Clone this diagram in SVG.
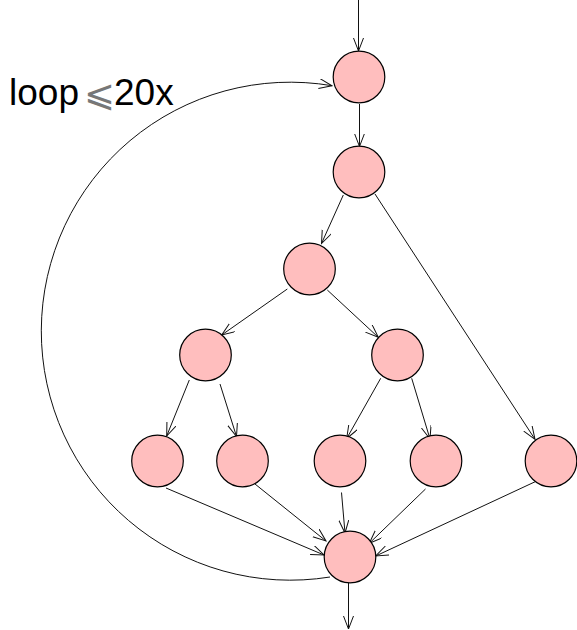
<svg xmlns="http://www.w3.org/2000/svg" width="577" height="630" viewBox="0 0 577 630">
<style>
.node circle{fill:#ffbebe;stroke:#000;stroke-width:1.2}
.edges path{fill:none;stroke:#111;stroke-width:1;marker-end:url(#arr)}
.lbl{font-family:"Liberation Sans",Arial,sans-serif;font-size:37px;fill:#000}
</style>
<defs>
<marker id="arr" markerUnits="userSpaceOnUse" markerWidth="15" markerHeight="12" refX="13" refY="5" orient="auto">
<path d="M0,0 L13,5 L0,10" fill="none" stroke="#111" stroke-width="1"/>
</marker>
</defs>
<rect width="577" height="630" fill="#fff"/>
<g class="edges" id="edges">
<path d="M358.5,0 L358.5,51"/>
<path d="M359.5,104 L359.5,146.5"/>
<path d="M343.3,195 L321.5,243.5"/>
<path d="M375,194 L535,439.3"/>
<path d="M287.3,289 L221.7,335"/>
<path d="M327.3,290 L378.3,337.3"/>
<path d="M189.3,380 L166.7,436"/>
<path d="M220,384 L236.5,436.5"/>
<path d="M380.7,378.3 L346.7,438.5"/>
<path d="M411.7,378.3 L430,439"/>
<path d="M166,488 L324,555"/>
<path d="M255,484 L326,541"/>
<path d="M341.5,492.5 L345,533"/>
<path d="M425.5,489 L369.3,543.3"/>
<path d="M536.7,481 L375.7,556"/>
<path d="M348.5,583 L348.5,629"/>
<path d="M330,577 A249,249 0 1 1 332,85.7"/>
</g>
<g class="node" id="n1"><circle cx="359" cy="77" r="25.8"/></g>
<g class="node" id="n2"><circle cx="359" cy="172" r="25.8"/></g>
<g class="node" id="n3"><circle cx="309.5" cy="269" r="25.8"/></g>
<g class="node" id="n4"><circle cx="205.5" cy="355" r="25.8"/></g>
<g class="node" id="n5"><circle cx="397.5" cy="355" r="25.8"/></g>
<g class="node" id="l1"><circle cx="157.5" cy="461" r="25.8"/></g>
<g class="node" id="l2"><circle cx="242.5" cy="461" r="25.8"/></g>
<g class="node" id="l3"><circle cx="340" cy="461" r="25.8"/></g>
<g class="node" id="l4"><circle cx="436" cy="461" r="25.8"/></g>
<g class="node" id="l5"><circle cx="551" cy="461" r="25.8"/></g>
<g class="node" id="bot"><circle cx="350" cy="557" r="25.8"/></g>
<g id="label">
<text class="lbl" y="105"><tspan x="9">loop</tspan><tspan x="84" y="106" style="font-family:'DejaVu Sans',sans-serif;font-weight:200;font-size:37px;fill:#777">⩽</tspan><tspan x="114" y="105">20x</tspan></text>
</g>
</svg>
